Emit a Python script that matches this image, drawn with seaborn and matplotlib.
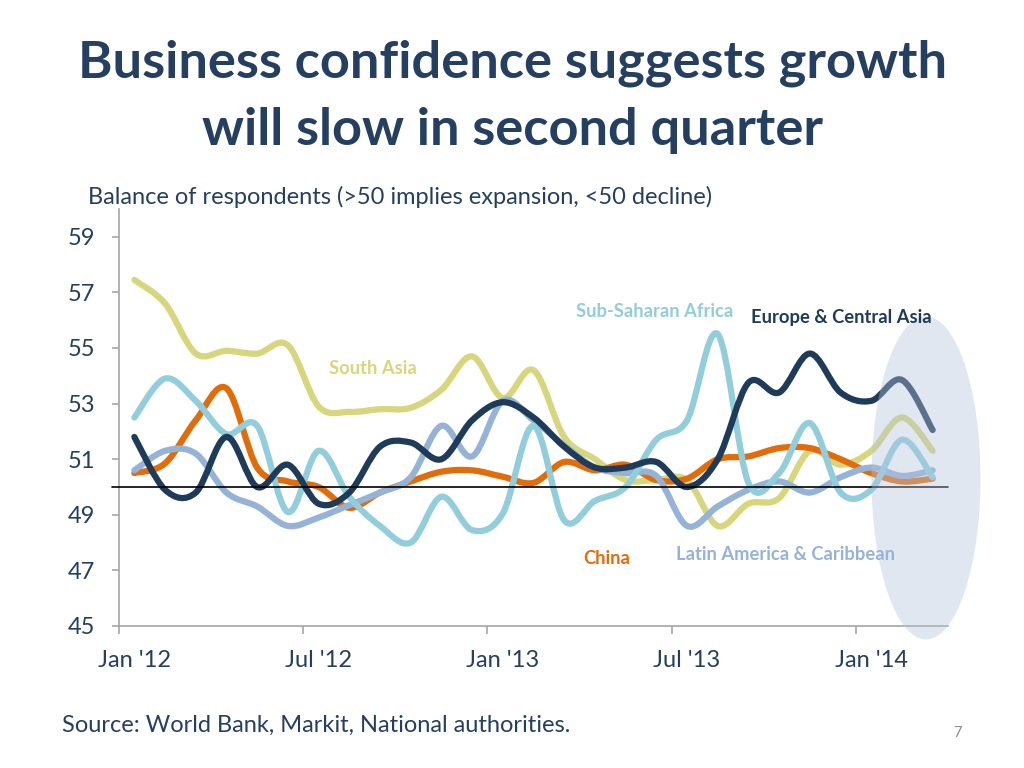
import numpy as np
import pandas as pd
import matplotlib
matplotlib.use("Agg")
import matplotlib.pyplot as plt
import seaborn as sns
from matplotlib.path import Path
from matplotlib.patches import PathPatch, Ellipse

# ---------------- data (monthly, Jan 2012 - Mar 2014) ----------------
months = pd.date_range("2012-01-01", "2014-03-01", freq="MS").strftime("%b %Y").tolist()

south_asia = [57.45, 56.6, 54.8, 54.9, 54.8, 55.1, 52.9, 52.7, 52.8, 52.85,
              53.5, 54.7, 53.2, 54.2, 51.8, 51.0, 50.25, 50.25, 50.25, 48.6,
              49.4, 49.6, 51.3, 50.8, 51.3, 52.5, 51.3]
europe_ca = [51.8, 49.9, 49.8, 51.8, 50.0, 50.8, 49.4, 49.8, 51.45, 51.6,
             51.0, 52.4, 53.05, 52.5, 51.45, 50.7, 50.7, 50.9, 50.0, 51.0,
             53.75, 53.4, 54.8, 53.4, 53.1, 53.85, 52.05]
china = [50.5, 50.85, 52.4, 53.55, 50.7, 50.2, 50.0, 49.25, 49.8, 50.2,
         50.55, 50.6, 50.37, 50.15, 50.9, 50.6, 50.8, 50.25, 50.3, 51.0,
         51.1, 51.4, 51.4, 51.0, 50.5, 50.2, 50.3]
latam = [50.6, 51.3, 51.2, 49.8, 49.3, 48.6, 48.9, 49.35, 49.8, 50.35,
         52.2, 51.1, 53.1, 52.4, 51.5, 50.7, 50.5, 50.4, 48.6, 49.3,
         49.9, 50.2, 49.8, 50.35, 50.7, 50.4, 50.6]
ssa = [52.5, 53.9, 53.1, 51.9, 52.2, 49.1, 51.3, 49.65, 48.6, 48.0,
       49.65, 48.45, 49.05, 52.2, 48.8, 49.5, 50.0, 51.7, 52.4, 55.5,
       50.15, 50.5, 52.3, 49.8, 49.9, 51.7, 50.35]

x_tick_labels = ["Jan '12", "Jul '12", "Jan '13", "Jul '13", "Jan '14"]
y_ticks = [45, 47, 49, 51, 53, 55, 57, 59]

series = {
    "South Asia": south_asia,
    "China": china,
    "Latin America & Caribbean": latam,
    "Sub-Saharan Africa": ssa,
    "Europe & Central Asia": europe_ca,
}
colors = {
    "South Asia": "#D7D67C",
    "China": "#E36C0A",
    "Latin America & Caribbean": "#95B3D7",
    "Sub-Saharan Africa": "#92CDDC",
    "Europe & Central Asia": "#1F3B5A",
}

rows = []
for name, vals in series.items():
    for i, v in enumerate(vals):
        rows.append({"region": name, "month": months[i], "pos": i + 0.5, "value": v})
df = pd.DataFrame(rows)

# ---------------- figure ----------------
sns.set_theme(style="white")
plt.rcParams["font.family"] = ["Lato", "DejaVu Sans"]
text_col = "#243F60"

fig = plt.figure(figsize=(10.24, 7.68), dpi=100)
ax = fig.add_axes([119 / 1024, 1 - 626 / 768, 829 / 1024, (626 - 209) / 768])

sns.lineplot(data=df, x="pos", y="value", hue="region", palette=colors,
             hue_order=list(series.keys()), linewidth=4.5, legend=False, ax=ax,
             sort=False)

# Excel-style smoothing: replace each seaborn line by a Catmull-Rom Bezier path
for line in list(ax.lines):
    xy = np.asarray(line.get_xydata())
    if len(xy) < 3:
        continue
    p = np.vstack([xy[0], xy, xy[-1]])
    verts = [tuple(xy[0])]
    codes = [Path.MOVETO]
    for k in range(1, len(p) - 2):
        p0, p1, p2, p3 = p[k - 1], p[k], p[k + 1], p[k + 2]
        c1 = p1 + (p2 - p0) / 6.0
        c2 = p2 - (p3 - p1) / 6.0
        verts += [tuple(c1), tuple(c2), tuple(p2)]
        codes += [Path.CURVE4] * 3
    patch = PathPatch(Path(verts, codes), facecolor="none",
                      edgecolor=line.get_color(), lw=4.5,
                      capstyle="round", joinstyle="round", zorder=2)
    ax.add_patch(patch)
    line.set_visible(False)

ax.axhline(50, xmin=-0.008, xmax=1.0, color="black", lw=1.2, zorder=3, clip_on=False)

ax.set_xlim(0, 27)
ax.set_ylim(45, 60)
ax.set_yticks(y_ticks)
ax.set_yticklabels([str(t) for t in y_ticks])
ax.set_xticks([0, 6, 12, 18, 24])
ax.set_xticklabels([])
ax.set_xticks([0.5, 6.5, 12.5, 18.5, 24.5], minor=True)
ax.set_xticklabels(x_tick_labels, minor=True)
ax.tick_params(axis="x", which="major", length=6, width=1.2, color="#A6A6A6", direction="out", bottom=True)
ax.tick_params(axis="x", which="minor", length=0, pad=17, labelsize=17, labelcolor=text_col, bottom=True)
ax.tick_params(axis="y", length=5, width=1.2, color="#A6A6A6", direction="out", pad=12,
               labelsize=17, labelcolor=text_col, left=True)
ax.set_xlabel("")
ax.set_ylabel("")
for s in ["top", "right"]:
    ax.spines[s].set_visible(False)
for s in ["left", "bottom"]:
    ax.spines[s].set_color("#A6A6A6")
    ax.spines[s].set_linewidth(1.2)
ax.set_facecolor("white")

# highlight ellipse
ell = Ellipse(((926 - 119) / 829, 1 - (478 - 209) / 417), 109 / 829, 323 / 417,
              transform=ax.transAxes, facecolor=(180 / 255, 196 / 255, 222 / 255),
              alpha=0.4, edgecolor="none", zorder=4, clip_on=False)
ax.add_patch(ell)

# series labels
lab_kw = dict(transform=fig.transFigure, ha="center", va="center", fontsize=13.2, fontweight="bold")
fig.text(373 / 1024, 1 - 368 / 768, "South Asia", color=colors["South Asia"], **lab_kw)
fig.text(655 / 1024, 1 - 311 / 768, "Sub-Saharan Africa", color=colors["Sub-Saharan Africa"], **lab_kw)
fig.text(841 / 1024, 1 - 317 / 768, "Europe & Central Asia", color=colors["Europe & Central Asia"], **lab_kw)
fig.text(607 / 1024, 1 - 559 / 768, "China", color=colors["China"], **lab_kw)
fig.text(786 / 1024, 1 - 555 / 768, "Latin America & Caribbean", color=colors["Latin America & Caribbean"], **lab_kw)

# title and texts
fig.text(0.5, 1 - 63 / 768, "Business confidence suggests growth", ha="center", va="center",
         fontsize=37.7, fontweight="bold", color=text_col)
fig.text(0.5, 1 - 130 / 768, "will slow in second quarter", ha="center", va="center",
         fontsize=37.7, fontweight="bold", color=text_col)
fig.text(88 / 1024, 1 - 197 / 768, "Balance of respondents (>50 implies expansion, <50 decline)",
         ha="left", va="center", fontsize=17, color=text_col)
fig.text(62 / 1024, 1 - 725 / 768, "Source: World Bank, Markit, National authorities.",
         ha="left", va="center", fontsize=17, color=text_col)
fig.text(958 / 1024, 1 - 733 / 768, "7", ha="center", va="center", fontsize=10.5, color="#8C8C8C")

fig.savefig("out.png", dpi=100, facecolor="white")
